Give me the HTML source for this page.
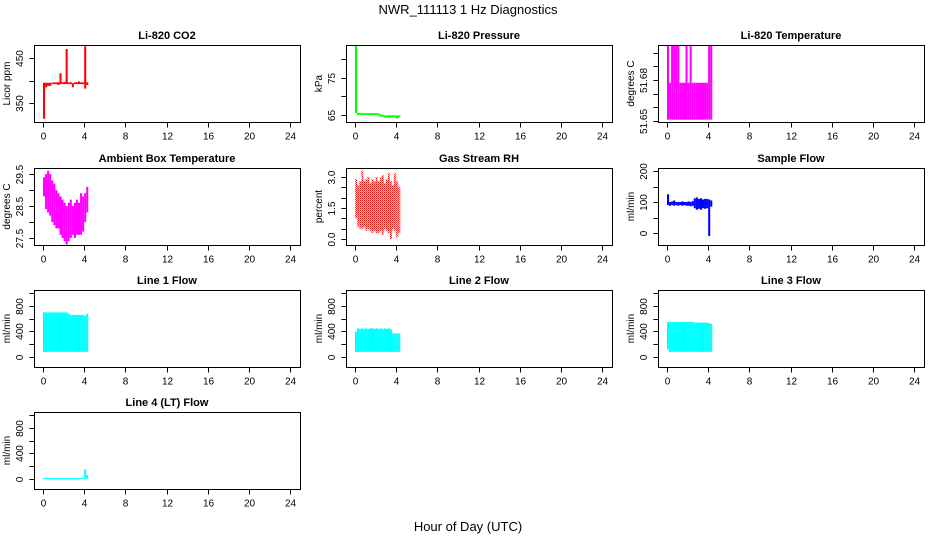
<!DOCTYPE html>
<html><head><meta charset="utf-8"><style>
body{margin:0;background:#fff;}
svg{display:block;font-family:"Liberation Sans",Arial,sans-serif;}
</style></head><body>
<svg id="c" width="936" height="540" viewBox="0 0 936 540">
<defs>
<pattern id="rhpat" width="2" height="2" patternUnits="userSpaceOnUse">
<rect width="2" height="2" fill="#ffff00"/><rect width="1" height="1" fill="#ff0000"/><rect x="1" y="1" width="1" height="1" fill="#ff6000"/>
</pattern>
</defs>
<text x="468" y="14" text-anchor="middle" font-size="13">NWR_111113  1 Hz Diagnostics</text>
<text x="468" y="531" text-anchor="middle" font-size="13">Hour of Day (UTC)</text>
</svg>
<script>
const hours = [0,0.2,0.4,0.6,0.8,1.0,1.2,1.4,1.6,1.8,2.0,2.2,2.4,2.6,2.8,3.0,3.2,3.4,3.6,3.8,4.0,4.2];
const xTicks = [0,4,8,12,16,20,24];

const co2Low  = [315,385,388,388,392,392,392,390,392,392,392,392,392,392,385,392,392,392,392,392,382,390];
const co2High = [395,395,395,395,395,396,396,396,416,396,397,470,396,396,394,396,396,398,396,396,476,396];
const co2Ticks = [350,400,450];
const co2Labels = ["350","","450"];

const presLow  = [65.5,65,65,65,65,65,65,65,65,65,65,64.8,64.5,64.5,64.3,64.3,64.2,64.3,64.3,64.3,64,64.3];
const presHigh = [84,65.6,65.5,65.5,65.5,65.5,65.5,65.5,65.5,65.5,65.5,65.4,65.2,65,64.9,64.9,64.9,64.9,64.9,64.9,64.9,64.9];
const presTicks = [65,70,75,80];
const presLabels = ["65","","75",""];

const ltLow  = [51.651,51.651,51.651,51.651,51.651,51.651,51.651,51.651,51.651,51.651,51.651,51.651,51.651,51.651,51.651,51.651,51.651,51.651,51.651,51.651,51.651,51.651];
const ltHigh = [51.706,51.678,51.706,51.706,51.706,51.706,51.678,51.678,51.678,51.706,51.678,51.706,51.678,51.678,51.678,51.678,51.678,51.678,51.678,51.678,51.706,51.706];
const ltTicks = [51.65,51.66,51.67,51.68,51.69,51.70];
const ltLabels = ["51.65","","","51.68","",""];

const ambLow  = [28.8,28.4,28.3,28.2,28.0,27.9,27.8,27.8,27.6,27.5,27.4,27.3,27.4,27.5,27.6,27.5,27.6,27.6,27.6,27.7,28.0,28.3];
const ambHigh = [29.4,29.5,29.6,29.5,29.3,29.2,29.0,28.9,28.8,28.7,28.6,28.5,28.6,28.7,28.5,28.6,28.7,28.6,28.9,28.8,28.9,29.1];
const ambTicks = [27.5,28,28.5,29,29.5];
const ambLabels = ["27.5","","28.5","","29.5"];

const rhLow  = [1.0,0.6,0.5,0.5,0.6,0.4,0.5,0.4,0.3,0.4,0.3,0.3,0.4,0.2,0.5,0.4,0.3,0.0,0.5,0.4,0.1,0.3];
const rhHigh = [2.9,2.6,2.8,3.3,2.8,2.9,3.0,2.7,2.9,2.8,3.0,2.8,3.0,3.1,2.7,2.9,3.2,2.8,2.6,3.2,2.8,2.5];
const rhTicks = [0,0.5,1,1.5,2,2.5,3];
const rhLabels = ["0.0","","","1.5","","","3.0"];

const sfLow  = [90,88,90,88,90,88,90,88,90,88,88,86,88,80,75,78,75,80,78,80,-10,85];
const sfHigh = [125,100,102,105,100,100,100,102,100,100,102,100,103,112,115,110,112,108,110,110,108,105];
const sfTicks = [0,50,100,150,200];
const sfLabels = ["0","","100","","200"];

const l1Low  = [80,80,80,80,80,80,80,80,80,80,80,80,80,80,80,80,80,80,80,80,80,80];
const l1High = [700,700,700,700,700,700,700,700,700,700,700,700,680,660,660,660,660,660,660,660,650,680];
const l2Low  = [80,80,80,80,80,80,80,80,80,80,80,80,80,80,80,80,80,80,80,80,80,80];
const l2High = [400,450,440,450,440,450,440,450,450,440,450,440,450,440,450,440,450,430,370,370,370,370];
const l3Low  = [120,80,80,80,80,80,80,80,80,80,80,80,80,80,80,80,80,80,80,80,80,80];
const l3High = [550,550,550,550,550,550,550,550,550,550,550,550,550,540,540,540,540,540,540,540,530,520];
const l4Low  = [5,5,5,5,5,5,5,5,5,5,5,5,5,5,5,5,5,5,5,5,5,5];
const l4High = [15,15,15,15,15,15,15,15,15,15,15,15,15,15,15,15,15,15,15,15,150,60];
const flowTicks = [0,200,400,600,800,1000];
const flowLabels = ["0","","400","","800",""];

const NS = "http://www.w3.org/2000/svg";
const svg = document.getElementById('c');
function mk(tag, attrs, parent){
  const e = document.createElementNS(NS, tag);
  for (const k in attrs) e.setAttribute(k, attrs[k]);
  (parent||svg).appendChild(e);
  return e;
}
const colLeft = [34,346,658];
const rowTop = [45,168,290,412];
const BW = 266, BH = 77;

function panel(col,row,cfg,low,high,ticks,labels){
  const L = colLeft[col], T = rowTop[row];
  const g = mk('g',{});
  
  
  const x0 = L + 9, xs = 247/24;
  const xScale = h => x0 + h*xs;
  const yScale = v => T + BH - (v - cfg.ymin)/(cfg.ymax - cfg.ymin)*BH;
  const clip = 'clip'+col+row;
  const cp = mk('clipPath',{id:clip},g); mk('rect',{x:L,y:T,width:BW,height:BH},cp);
  const dg = mk('g',{'clip-path':'url(#'+clip+')'},g);
  for (let i=0;i<hours.length;i++){
    const ya = yScale(high[i]), yb = yScale(low[i]);
    const r = mk('rect',{x:xScale(hours[i]).toFixed(2),y:ya.toFixed(2),width:(0.2*xs).toFixed(2),height:Math.max(1.2,yb-ya).toFixed(2),fill:cfg.color},dg);
    
    
  }
  const box = mk('rect',{x:L+0.5,y:T+0.5,width:BW,height:BH,fill:'none',stroke:'#000','stroke-width':1},g);
  
  
  const t = mk('text',{x:L+BW/2,y:T-6,'text-anchor':'middle','font-size':11,'font-weight':'bold'},g);
  t.textContent = cfg.title;
  
  
  const by = T+BH+0.5;
  mk('line',{x1:xScale(0),x2:xScale(24),y1:by,y2:by,stroke:'#000'},g);
  xTicks.forEach(h=>{
    const x = Math.round(xScale(h))+0.5;
    mk('line',{x1:x,x2:x,y1:by,y2:by+5,stroke:'#000'},g);
    const tl = mk('text',{x:x,y:by+17,'text-anchor':'middle','font-size':10},g);
    tl.textContent = h;
    
    
  });
  ticks.forEach((v,i)=>{
    const y = Math.round(yScale(v))+0.5;
    mk('line',{x1:L+0.5,x2:L-4.5,y1:y,y2:y,stroke:'#000'},g);
    if (labels[i]){
      const tl = mk('text',{x:0,y:0,'text-anchor':'middle','font-size':10,transform:`translate(${L-11},${y}) rotate(-90)`},g);
      tl.textContent = labels[i];
      
      
    }
  });
  mk('line',{x1:L+0.5,x2:L+0.5,y1:yScale(ticks[0]),y2:yScale(ticks[ticks.length-1]),stroke:'#000'},g);
  const yl = mk('text',{x:0,y:0,'text-anchor':'middle','font-size':10,transform:`translate(${L-24},${T+BH/2}) rotate(-90)`},g);
  yl.textContent = cfg.ylab;
  
  
}
panel(0,0,{name:'co2-panel',title:'Li-820 CO2',ylab:'Licor ppm',color:'#ff0000',ymin:307.8,ymax:478.9},co2Low,co2High,co2Ticks,co2Labels);
panel(1,0,{name:'pressure-panel',title:'Li-820 Pressure',ylab:'kPa',color:'#00ff00',ymin:63.1,ymax:83.9},presLow,presHigh,presTicks,presLabels);
panel(2,0,{name:'li820-temperature-panel',title:'Li-820 Temperature',ylab:'degrees C',color:'#ff00ff',ymin:51.6493,ymax:51.7056},ltLow,ltHigh,ltTicks,ltLabels);
panel(0,1,{name:'ambient-temperature-panel',title:'Ambient Box Temperature',ylab:'degrees C',color:'#ff00ff',ymin:27.28,ymax:29.69},ambLow,ambHigh,ambTicks,ambLabels);
panel(1,1,{name:'gas-stream-rh-panel',title:'Gas Stream RH',ylab:'percent',color:'url(#rhpat)',ymin:-0.29,ymax:3.435},rhLow,rhHigh,rhTicks,rhLabels);
panel(2,1,{name:'sample-flow-panel',title:'Sample Flow',ylab:'ml/min',color:'#0000ff',ymin:-38.7,ymax:209.7},sfLow,sfHigh,sfTicks,sfLabels);
panel(0,2,{name:'line1-flow-panel',title:'Line 1 Flow',ylab:'ml/min',color:'#00ffff',ymin:-157,ymax:1051},l1Low,l1High,flowTicks,flowLabels);
panel(1,2,{name:'line2-flow-panel',title:'Line 2 Flow',ylab:'ml/min',color:'#00ffff',ymin:-157,ymax:1051},l2Low,l2High,flowTicks,flowLabels);
panel(2,2,{name:'line3-flow-panel',title:'Line 3 Flow',ylab:'ml/min',color:'#00ffff',ymin:-157,ymax:1051},l3Low,l3High,flowTicks,flowLabels);
panel(0,3,{name:'line4-flow-panel',title:'Line 4 (LT) Flow',ylab:'ml/min',color:'#00ffff',ymin:-157,ymax:1051},l4Low,l4High,flowTicks,flowLabels);
</script>
</body></html>
